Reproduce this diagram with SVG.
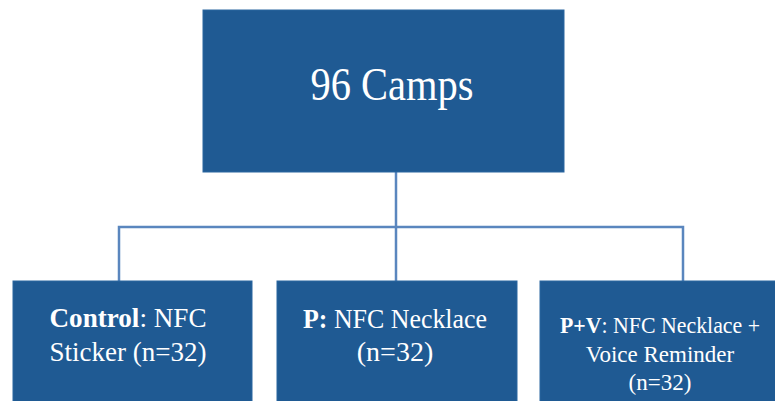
<svg xmlns="http://www.w3.org/2000/svg" width="775" height="401" viewBox="0 0 775 401">
<style>
.box{fill:#1F5A93;stroke:#2A66A0;stroke-width:1}
.t{font-family:"Liberation Serif","Times New Roman",serif;fill:#FFFFFF;text-anchor:middle}
.b{font-weight:bold}
.c{fill:none;stroke:#5A86BE;stroke-width:2.5}
</style>
<rect width="775" height="401" fill="#FFFFFF"/>
<g id="connectors">
<line class="c" x1="396" y1="172" x2="396" y2="281"/>
<polyline class="c" points="119,281 119,227 683,227 683,281"/>
</g>
<g id="camps">
<rect class="box" x="203" y="10" width="361" height="162"/>
<text class="t" x="392" y="100" font-size="46" textLength="163" lengthAdjust="spacingAndGlyphs">96 Camps</text>
</g>
<g id="control">
<rect class="box" x="13" y="281" width="239" height="125"/>
<text class="t" x="128" y="327" font-size="28" textLength="157" lengthAdjust="spacingAndGlyphs"><tspan class="b">Control</tspan>: NFC</text>
<text class="t" x="128" y="361" font-size="28" textLength="157" lengthAdjust="spacingAndGlyphs">Sticker (n=32)</text>
</g>
<g id="p">
<rect class="box" x="277" y="281" width="240" height="125"/>
<text class="t" x="395" y="328" font-size="28" textLength="184" lengthAdjust="spacingAndGlyphs"><tspan class="b">P:</tspan> NFC Necklace</text>
<text class="t" x="395" y="361" font-size="28">(n=32)</text>
</g>
<g id="pv">
<rect class="box" x="540" y="281" width="245" height="125"/>
<text class="t" x="660" y="333" font-size="23" textLength="200" lengthAdjust="spacingAndGlyphs"><tspan class="b">P+V</tspan>: NFC Necklace +</text>
<text class="t" x="660" y="362" font-size="23">Voice Reminder</text>
<text class="t" x="660" y="390" font-size="23">(n=32)</text>
</g>
</svg>
